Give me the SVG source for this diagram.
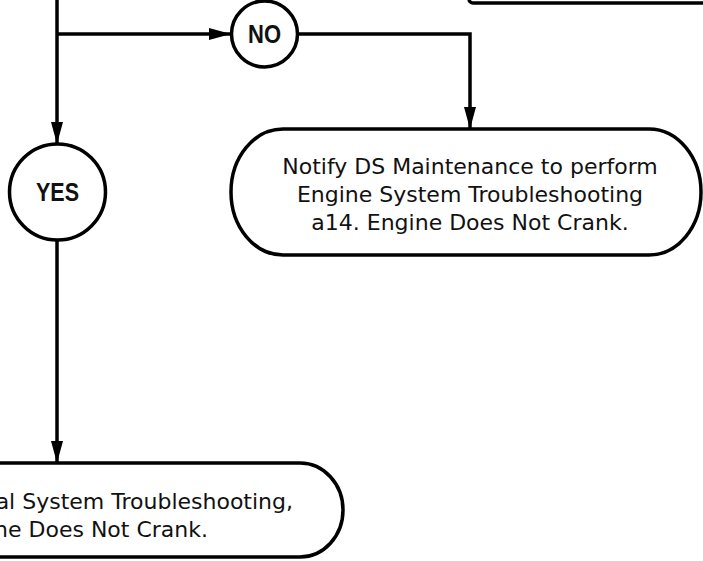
<svg xmlns="http://www.w3.org/2000/svg" width="703" height="561" viewBox="0 0 703 561">
<defs>
<style>
.ln{fill:none;stroke:#000;stroke-width:3.5;stroke-linejoin:miter}
.nd{fill:#fff;stroke:#000;stroke-width:3.5}
.tx{font-family:"DejaVu Sans",sans-serif;font-size:22px;fill:#111;text-anchor:middle}
.lb{font-family:"Liberation Sans",Arial,sans-serif;font-weight:bold;font-size:25px;fill:#111;text-anchor:middle}
</style>
<marker id="ah" viewBox="0 0 22 12" refX="22" refY="6" markerWidth="22" markerHeight="12" markerUnits="userSpaceOnUse" orient="auto">
<path d="M0,0 L22,6 L0,12 Z" fill="#000"/>
</marker>
</defs>
<g id="connectors">
<path class="ln" d="M57,0 V144" marker-end="url(#ah)"/>
<path class="ln" d="M57,34 H231" marker-end="url(#ah)"/>
<path class="ln" d="M297,34 H470 V129" marker-end="url(#ah)"/>
<path class="ln" d="M57,240 V463" marker-end="url(#ah)"/>
</g>
<g id="top-box">
<rect class="nd" x="469" y="-100" width="300" height="103" rx="4"/>
</g>
<g id="no">
<circle class="nd" cx="264.5" cy="34" r="33"/>
<text class="lb" x="264.5" y="43" textLength="33" lengthAdjust="spacingAndGlyphs">NO</text>
</g>
<g id="yes">
<circle class="nd" cx="57.5" cy="192" r="48"/>
<text class="lb" x="57.5" y="201" textLength="43" lengthAdjust="spacingAndGlyphs">YES</text>
</g>
<g id="notify-engine">
<rect class="nd" x="231" y="129" width="470" height="126" rx="52" ry="63"/>
<text class="tx" x="470" y="174">Notify DS Maintenance to perform</text>
<text class="tx" x="470" y="202">Engine System Troubleshooting</text>
<text class="tx" x="470" y="230">a14. Engine Does Not Crank.</text>
</g>
<g id="notify-electrical">
<rect class="nd" x="-200" y="463" width="543" height="94" rx="43" ry="47"/>
<text class="tx" x="293" y="509" style="text-anchor:end">al System Troubleshooting,</text>
<text class="tx" x="208" y="537" style="text-anchor:end">ne Does Not Crank.</text>
</g>
</svg>
